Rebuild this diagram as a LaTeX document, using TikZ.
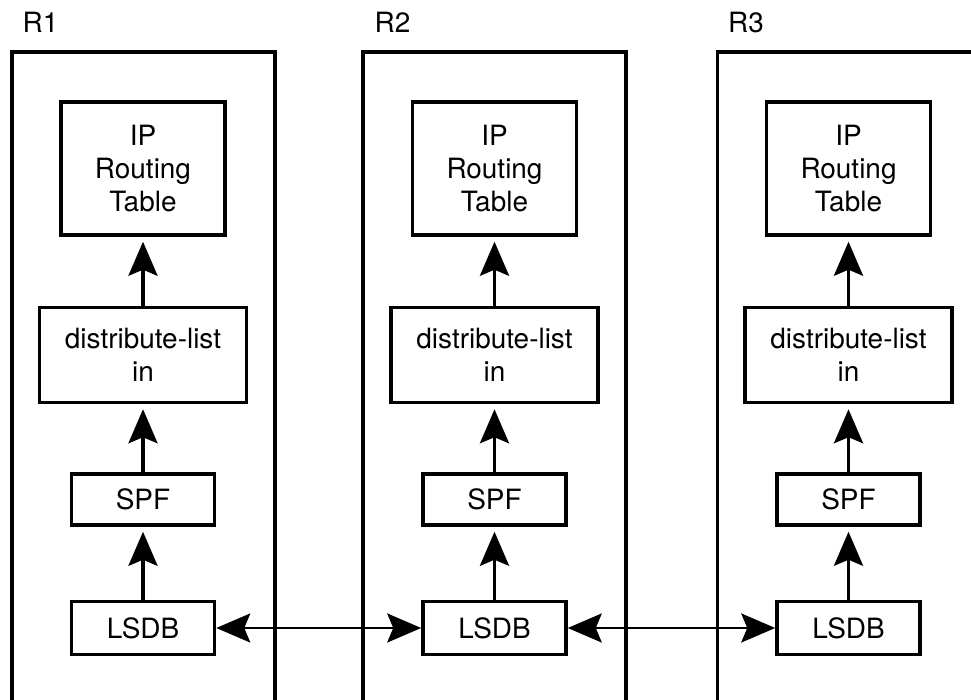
\documentclass[tikz,border=0pt]{standalone}
\usepackage{fontspec}
\setmainfont{TeX Gyre Heros}
\usepackage{tikz}
\usetikzlibrary{positioning,arrows.meta}
\tikzset{basic/.style={draw,line width=2pt,align=center,inner sep=0pt,font=\fontsize{15.9}{18.8}\selectfont}}
\tikzset{router/.style={basic,minimum width=5.26cm,minimum height=13.96cm}}
\tikzset{rib/.style={basic,minimum width=3.28cm,minimum height=2.66cm}}
\tikzset{filter/.style={basic,minimum width=4.14cm,minimum height=1.9cm}}
\tikzset{spfbox/.style={basic,minimum width=2.86cm,minimum height=1.02cm}}
\tikzset{lsdbbox/.style={basic,minimum width=2.86cm,minimum height=1.06cm}}
\tikzset{tag/.style={inner sep=0pt,font=\fontsize{15.9}{18.8}\selectfont}}
\tikzset{bigtip/.tip={Stealth[length=0.68cm,width=0.58cm,inset=0.12cm]}}
\tikzset{flow/.style={line width=2pt,-bigtip,shorten >=0.1cm}}
\tikzset{flood/.style={line width=1.4pt,bigtip-bigtip}}

\begin{document}
\begin{tikzpicture}
		\useasboundingbox (0,0) rectangle (19.42,14);
		\clip (0,0) rectangle (19.42,14);
		% routers
		\node[router] (r1) at (2.87,5.98) {};
		\node[router] (r2) at (9.89,5.98) {};
		\node[router] (r3) at (16.98,5.98) {};
		\node[tag,above right=0.36cm and 0.24cm of r1.north west,anchor=base west] (l1) {R1};
		\node[tag,above right=0.36cm and 0.26cm of r2.north west,anchor=base west] (l2) {R2};
		\node[tag,above right=0.36cm and 0.24cm of r3.north west,anchor=base west] (l3) {R3};
		% R1
		\node[lsdbbox] (lsdb1) at (2.86,1.44) {LSDB};
		\node[spfbox,above=1.46cm of lsdb1] (spf1) {SPF};
		\node[filter,above=1.36cm of spf1] (dl1) {distribute-list\\in};
		\node[rib,above=1.38cm of dl1] (rt1) {IP\\Routing\\Table};
		\path[draw,flow] (lsdb1) -- (spf1);
		\path[draw,flow] (spf1) -- (dl1);
		\path[draw,flow] (dl1) -- (rt1);
		% R2
		\node[lsdbbox] (lsdb2) at (9.89,1.44) {LSDB};
		\node[spfbox,above=1.46cm of lsdb2] (spf2) {SPF};
		\node[filter,above=1.36cm of spf2] (dl2) {distribute-list\\in};
		\node[rib,above=1.38cm of dl2] (rt2) {IP\\Routing\\Table};
		\path[draw,flow] (lsdb2) -- (spf2);
		\path[draw,flow] (spf2) -- (dl2);
		\path[draw,flow] (dl2) -- (rt2);
		% R3
		\node[lsdbbox] (lsdb3) at (16.97,1.44) {LSDB};
		\node[spfbox,above=1.46cm of lsdb3] (spf3) {SPF};
		\node[filter,above=1.36cm of spf3] (dl3) {distribute-list\\in};
		\node[rib,above=1.38cm of dl3] (rt3) {IP\\Routing\\Table};
		\path[draw,flow] (lsdb3) -- (spf3);
		\path[draw,flow] (spf3) -- (dl3);
		\path[draw,flow] (dl3) -- (rt3);
		% flooding
		\path[draw,flood] (lsdb1) -- (lsdb2);
		\path[draw,flood] (lsdb2) -- (lsdb3);
	\end{tikzpicture}
\end{document}
